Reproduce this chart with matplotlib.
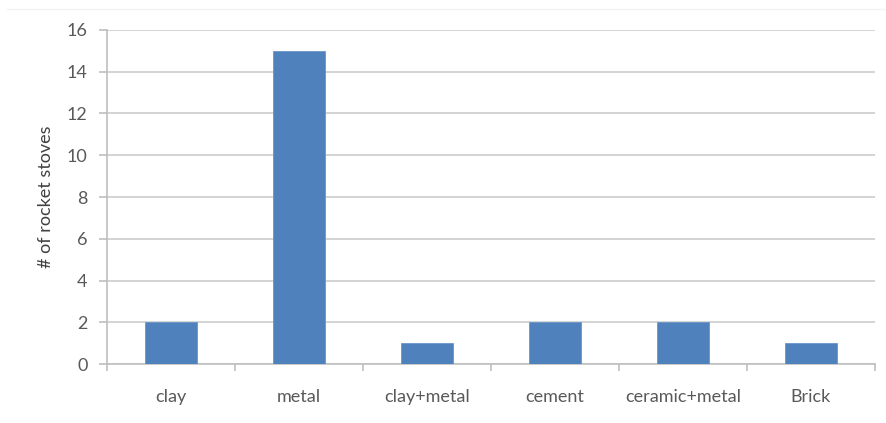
import matplotlib
matplotlib.use("Agg")
import matplotlib.pyplot as plt
from matplotlib.lines import Line2D

categories = ["clay", "metal", "clay+metal", "cement", "ceramic+metal", "Brick"]
counts = [2, 15, 1, 2, 2, 1]
y_ticks = [0, 2, 4, 6, 8, 10, 12, 14, 16]

W, H, DPI = 886, 423, 100
fig = plt.figure(figsize=(W / DPI, H / DPI), dpi=DPI)
left, right, top, bottom = 107, 875, 30, 364
ax = fig.add_axes([left / W, 1 - bottom / H, (right - left) / W, (bottom - top) / H])

fam = ["Lato", "DejaVu Sans"]
plt.rcParams["font.family"] = fam
text_color = "#595959"
grid_color = "#D4D4D4"
axis_color = "#BFBFBF"
fs = 13

x = list(range(len(categories)))
ax.bar(x, counts, width=0.4, color="#4F81BD", edgecolor="#6A95C8", linewidth=0.6, zorder=3)

ax.set_xlim(-0.5, len(categories) - 0.5)
ax.set_ylim(0, 16)
ax.set_yticks(y_ticks)
ax.set_yticklabels([str(t) for t in y_ticks], fontsize=fs, color=text_color, family=fam)
ax.yaxis.grid(True, color=grid_color, linewidth=1.4, zorder=0)
ax.set_axisbelow(True)

# category labels centred under bars, tick marks at category boundaries
ax.set_xticks(x)
ax.set_xticklabels(categories, fontsize=fs, color=text_color, family=fam)
ax.tick_params(axis="x", length=0, pad=18)
ax.set_xticks([i - 0.5 for i in range(len(categories) + 1)], minor=True)
ax.tick_params(axis="x", which="minor", length=5, color=axis_color, width=1.2)
ax.tick_params(axis="y", length=6, color=axis_color, width=1.2, pad=8)

for s in ["top", "right"]:
    ax.spines[s].set_visible(False)
for s in ["left", "bottom"]:
    ax.spines[s].set_color(axis_color)
    ax.spines[s].set_linewidth(1.2)

ax.set_ylabel("# of rocket stoves", fontsize=fs, color="#404040", family=fam, labelpad=9)

# faint chart-area border line along the top
fig.add_artist(Line2D([7 / W, 1.0], [1 - 9 / H, 1 - 9 / H], color="#F3F3F3", linewidth=1.0))

fig.savefig("out.png", dpi=DPI)
